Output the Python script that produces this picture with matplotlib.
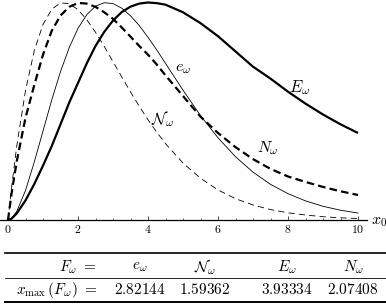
import matplotlib
matplotlib.use('Agg')
import matplotlib.pyplot as plt
from matplotlib.lines import Line2D

plt.rcParams['mathtext.fontset'] = 'cm'
plt.rcParams['font.family'] = 'serif'
plt.rcParams['font.serif'] = ['DejaVu Serif']
plt.rcParams['lines.scale_dashes'] = False

# ---- data (each curve scaled to its own peak = 1) ----
x0 = [0, 0.1, 0.25, 0.5, 0.75, 1.0, 1.25, 1.5, 1.75, 2.0, 2.25, 2.5, 2.75, 3.0,
      3.25, 3.5, 3.75, 4.0, 4.25, 4.5, 5.0, 5.5, 6.0, 6.5, 7.0, 7.5, 8.0, 8.5,
      9.0, 9.5, 10.0]

e_w = [0, 0.007, 0.039, 0.136, 0.266, 0.409, 0.552, 0.682, 0.793, 0.881, 0.944,
       0.983, 0.999, 0.995, 0.974, 0.939, 0.894, 0.840, 0.782, 0.720, 0.597,
       0.480, 0.378, 0.291, 0.220, 0.164, 0.121, 0.088, 0.063, 0.045, 0.032]

Ncal_w = [0, 0.147, 0.340, 0.595, 0.778, 0.899, 0.969, 0.998, 0.995, 0.967,
          0.921, 0.863, 0.798, 0.728, 0.658, 0.589, 0.523, 0.461, 0.404, 0.351,
          0.262, 0.192, 0.138, 0.098, 0.069, 0.048, 0.033, 0.023, 0.015, 0.010,
          0.007]

E_w = [0, 0.006, 0.03, 0.09, 0.165, 0.25, 0.34, 0.44, 0.54, 0.63, 0.72, 0.80,
       0.865, 0.917, 0.956, 0.981, 0.995, 1.0, 0.997, 0.99, 0.955, 0.905, 0.845,
       0.775, 0.705, 0.65, 0.59, 0.535, 0.485, 0.44, 0.40]

N_w = [0, 0.12, 0.27, 0.47, 0.62, 0.76, 0.87, 0.94, 0.98, 0.998, 0.995, 0.98,
       0.955, 0.925, 0.885, 0.843, 0.80, 0.76, 0.715, 0.665, 0.57, 0.475, 0.40,
       0.335, 0.28, 0.235, 0.20, 0.175, 0.152, 0.132, 0.115]

xticks = [0, 2, 4, 6, 8, 10]
xtick_labels = ['$0$', '$2$', '$4$', '$6$', '$8$', '$10$']

table_heads = [r'$e_\omega$', r'$\mathcal{N}_\omega$', r'$E_\omega$', r'$N_\omega$']
table_xmax = ['2.82144', '1.59362', '3.93334', '2.07408']

# ---- figure ----
W, H = 386, 304
fig = plt.figure(figsize=(W / 100, H / 100), dpi=100)
ax = fig.add_axes([0, 1 - 220 / H, 367 / W, 217.5 / H])
ax.set_xlim(-8 / 35, 359 / 35)
ax.set_ylim(0, 1)

ax.plot(x0, E_w, color='black', lw=1.6, clip_on=False, solid_capstyle='butt')
ax.plot(x0, e_w, color='black', lw=0.6, clip_on=False)
ax.plot(x0, N_w, color='black', lw=1.6, dashes=(5.5, 3), clip_on=False)
ax.plot(x0, Ncal_w, color='black', lw=0.6, dashes=(4.5, 3), clip_on=False)

for s in ['top', 'right', 'left']:
    ax.spines[s].set_visible(False)
ax.spines['bottom'].set_linewidth(0.9)
ax.set_yticks([])
ax.set_xticks(xticks)
ax.set_xticklabels(xtick_labels, fontsize=8.5)
ax.set_xticks([0.5 * i for i in range(21)], minor=True)
ax.tick_params(axis='x', which='major', direction='in', length=3, width=0.5, pad=2.5)
ax.tick_params(axis='x', which='minor', direction='in', length=1.8, width=0.4)

ax.text(5.0, 0.703, r'$e_\omega$', fontsize=11.5, ha='center', va='center')
ax.text(4.42, 0.464, r'$\mathcal{N}_\omega$', fontsize=11.5, ha='center', va='center')
ax.text(8.34, 0.611, r'$E_\omega$', fontsize=12, ha='center', va='center')
ax.text(7.43, 0.331, r'$N_\omega$', fontsize=11.5, ha='center', va='center')
ax.text(10.6, 0.0, r'$x_0$', fontsize=11.5, ha='center', va='center', clip_on=False)

# ---- table ----
for y, lw in [(253, 1.2), (278, 0.6), (302, 1.4)]:
    fig.add_artist(Line2D([5 / W, 1], [1 - y / H, 1 - y / H], color='black', lw=lw))

col_x = [140, 205, 287, 353]
fig.text(97 / W, 1 - 267 / H, r'$F_\omega\ =$', fontsize=11, ha='right', va='center')
fig.text(97 / W, 1 - 290 / H, r'$x_{\max}\,(F_\omega)\ =$', fontsize=11,
         ha='right', va='center')
for cx, head, val in zip(col_x, table_heads, table_xmax):
    fig.text(cx / W, 1 - 267 / H, head, fontsize=11, ha='center', va='center')
    fig.text(cx / W, 1 - 290 / H, '$' + val + '$', fontsize=11, ha='center', va='center')

fig.savefig('out.png', dpi=100)
